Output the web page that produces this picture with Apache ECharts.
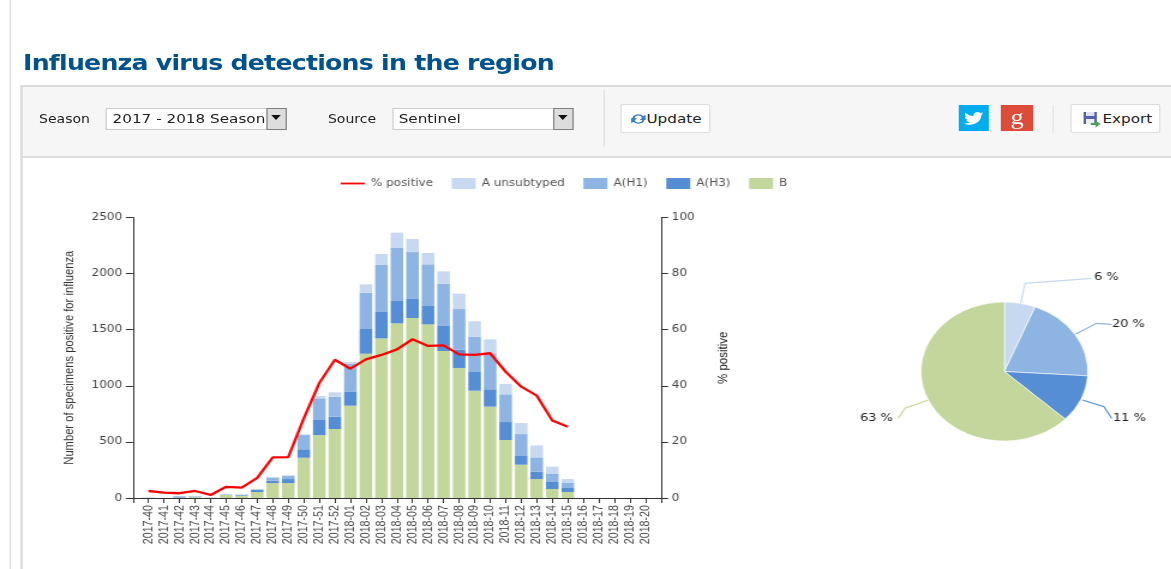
<!DOCTYPE html>
<html>
<head>
<meta charset="utf-8">
<title>Influenza virus detections in the region</title>
<script src="https://cdn.jsdelivr.net/npm/echarts@6/dist/echarts.min.js"></script>
<style>
  html, body { margin: 0; padding: 0; background: #fff; overflow: hidden; }
  /* the whole page is stretched sideways by 1.2 */
  #page { position: absolute; left: 0; top: 0; width: 976px; height: 569px; transform: scaleX(1.2); transform-origin: 0 0; font-family: "DejaVu Sans", sans-serif; color: #222; }
  #page > * { position: absolute; box-sizing: border-box; }
  .edge { left: 7.5px; top: 0; width: 1.2px; height: 569px; background: #ddd; }
  h1 { left: 19.2px; top: 49px; margin: 0; font-size: 21px; line-height: 28px; letter-spacing: -0.63px; color: #00528c; white-space: nowrap; }
  .panel { left: 16.7px; top: 85px; width: 960px; height: 73px; background: #f6f6f6; border: 2px solid #ddd; border-right: 0; }
  .body { left: 16.7px; top: 157px; width: 2px; height: 412px; background: #ddd; }
  .lbl { top: 112px; font-size: 11.7px; line-height: 14px; }
  .select { top: 108px; height: 22px; background: #fff; border: 1px solid #ccc; font-size: 12.7px; line-height: 20px; padding-left: 4.5px; white-space: nowrap; overflow: hidden; }
  .arrow { top: 108px; height: 22px; width: 17.5px; background: #ddd; border: 1.5px solid #808080; }
  .arrow:after { content: ""; position: absolute; left: 3.5px; top: 6px; border: 4px solid transparent; border-top: 5px solid #111; }
  .sep { width: 1.4px; background: #ddd; }
  .btn { top: 104px; height: 29px; width: 75.8px; background: #fff; border: 1px solid #ddd; border-radius: 2px; font-size: 12.7px; line-height: 28px; padding-left: 21px; }
  .btn svg { position: absolute; left: 7px; top: 6px; }
  .share { top: 105px; height: 26px; color: #fff; text-align: center; }
  #chart { left: 0; top: 158px; width: 976px; height: 411px; }
</style>
</head>
<body>
<div id="page">
  <div class="edge"></div>
  <h1>Influenza virus detections in the region</h1>
  <div class="panel"></div>
  <div class="body"></div>
  <div class="lbl" style="left:32.5px">Season</div>
  <div class="select" style="left:88.3px;width:151px">2017 - 2018 Season</div>
  <div class="arrow" style="left:221.7px"></div>
  <div class="lbl" style="left:273.3px">Source</div>
  <div class="select" style="left:326.7px;width:151.7px">Sentinel</div>
  <div class="arrow" style="left:460.9px"></div>
  <div class="sep" style="left:502.5px;top:90px;height:57px"></div>
  <div class="btn" style="left:516.7px">
    <svg width="14" height="16" viewBox="0 0 14 16"><path d="M2 7a5 4 0 0 1 9-2l2-1v5H8l2-2a3 3 0 0 0-6 1zM12 9a5 4 0 0 1-9 2l-2 1V7h5L4 9a3 3 0 0 0 6-1z" fill="#3b7fc4"/></svg>Update
  </div>
  <div class="share" style="left:799.2px;width:25px;background:#00aced">
    <svg width="19" height="26" viewBox="0 0 19 26" style="display:block;margin:auto"><path d="M17.5 8.5c-.6.3-1.200.4-1.900.5.7-.4 1.200-1 1.400-1.700-.6.4-1.300.6-2.100.8a3.300 3.300 0 0 0-5.600 3c-2.700-.1-5.100-1.400-6.700-3.400-.9 1.500-.4 3.400 1 4.400-.5 0-1-.2-1.500-.4 0 1.600 1.100 2.900 2.600 3.200-.5.1-1 .2-1.500.1.400 1.300 1.600 2.200 3.100 2.300A6.700 6.700 0 0 1 1 18.200c6.500 4 15-.4 14.800-8.100.7-.4 1.200-1 1.700-1.600z" fill="#fff"/></svg>
  </div>
  <div class="share" style="left:834.2px;width:26.7px;background:#dd4b39;font:22px/23px 'Liberation Serif',serif">g</div>
  <div class="sep" style="left:876.7px;top:105px;height:28px"></div>
  <div class="btn" style="left:891.7px;padding-left:26px">
    <svg width="19" height="17" viewBox="0 0 15 17"><rect x="1" y="1" width="11" height="12" fill="#5560b0"/><rect x="3" y="1" width="7" height="4" fill="#dfe3f5"/><rect x="3" y="8" width="7" height="5" fill="#eee"/><path d="M7 12h4V9.500l4 3.500-4 3.500V14H7z" fill="#4aa05a"/></svg>Export
  </div>
  <div id="chart"></div>
</div>
<script>
const weeks = [
  "2017-40", "2017-41", "2017-42", "2017-43", "2017-44", "2017-45", "2017-46", "2017-47", "2017-48", "2017-49", "2017-50",
  "2017-51", "2017-52", "2018-01", "2018-02", "2018-03", "2018-04", "2018-05", "2018-06", "2018-07", "2018-08", "2018-09",
  "2018-10", "2018-11", "2018-12", "2018-13", "2018-14", "2018-15", "2018-16", "2018-17", "2018-18", "2018-19", "2018-20"
];
const bValues = [0, 0, 4, 8, 2, 27, 18, 53, 133, 133, 359, 561, 615, 823, 1286, 1423, 1557, 1604, 1548, 1310, 1159, 956, 814, 517, 297, 169, 80, 53, 0, 0, 0, 0, 0];
const h3Values = [0, 0, 6, 2, 0, 1, 6, 18, 21, 36, 75, 134, 110, 127, 220, 235, 199, 170, 163, 229, 163, 167, 155, 160, 83, 65, 63, 36, 0, 0, 0, 0, 0];
const h1Values = [2, 1, 6, 5, 2, 5, 6, 6, 28, 27, 127, 193, 178, 247, 324, 419, 472, 418, 372, 371, 362, 315, 320, 247, 190, 128, 71, 45, 0, 0, 0, 0, 0];
const unsubtypedValues = [4, 2, 2, 3, 1, 3, 3, 3, 5, 6, 6, 21, 39, 15, 74, 98, 137, 116, 101, 110, 137, 137, 125, 92, 98, 107, 65, 35, 0, 0, 0, 0, 0];
const percentPositive = [2.5, 1.9, 1.7, 2.5, 1.1, 4, 3.7, 7.2, 14.5, 14.6, 28.4, 41, 49.3, 46.1, 49.4, 51, 53, 56.6, 54.2, 54.4, 51.2, 51, 51.6, 45, 39.7, 36.5, 27.6, 25.4, null, null, null, null, null];
const pieNames = ["A unsubtyped", "A(H1)", "A(H3)", "B"];
const pieValues = [6, 20, 11, 63];
const colors = { "A unsubtyped": "#c6d9f1", "A(H1)": "#8eb4e3", "A(H3)": "#558ed5", "B": "#c3d69b" };

// the axis runs half a band past the first and last week
const pad = (arr) => [null, ...arr, null];

const barSeries = (name, values) => ({
  name,
  type: "bar",
  stack: "total",
  barWidth: 10.5,
  yAxisIndex: 0,
  data: pad(values),
  itemStyle: { color: colors[name] },
});

const axisText = { fontFamily: "DejaVu Sans", fontSize: 10, color: "#444" };
const axisStroke = { show: true, lineStyle: { color: "#333", width: 1 } };

// pie labels and their leader lines, in page pixels before the stretch
const spot = (x, y) => [x / 1.2, y - 158];
const pieLabelLayout = [
  { at: spot(1094, 277), line: [spot(1020.7, 303.3), spot(1025, 283.3), spot(1091.7, 278.3)] },
  { at: spot(1112, 324), line: [spot(1075.7, 334), spot(1096.7, 323.3), spot(1111.7, 324.3)] },
  { at: spot(1113, 418), line: [spot(1082.3, 400), spot(1104, 406.7), spot(1111.7, 418.3)] },
  { at: spot(860, 418), line: [spot(928.3, 400), spot(905, 408.3), spot(898.3, 418.3)] },
];

const chart = echarts.init(document.getElementById("chart"), null, { renderer: "canvas" });

chart.setOption({
  animation: false,
  legend: {
    left: 279,
    top: 15,
    itemWidth: 20,
    itemHeight: 11,
    itemGap: 15.5,
    icon: "rect",
    textStyle: { fontFamily: "DejaVu Sans", fontSize: 10, color: "#555" },
    data: [
      { name: "% positive", icon: "path://M0 4.6H20V6.4H0Z" },
      "A unsubtyped", "A(H1)", "A(H3)", "B",
    ],
  },
  grid: { left: 110.8, top: 59.5, width: 440, height: 280.5 },
  xAxis: {
    type: "category",
    boundaryGap: false,
    data: pad(weeks).map((w) => w || ""),
    axisLine: axisStroke,
    axisTick: { show: true, length: 5, interval: 0, lineStyle: { color: "#333" } },
    axisLabel: { ...axisText, interval: 0, rotate: 90, margin: 7, fontFamily: "Liberation Sans", fontSize: 10.7 },
  },
  yAxis: [
    {
      type: "value",
      min: 0,
      max: 2500,
      interval: 500,
      name: "Number of specimens positive for influenza",
      nameLocation: "middle",
      nameGap: 47,
      nameTextStyle: { fontFamily: "Liberation Sans", fontSize: 11.2, color: "#333" },
      splitLine: { show: false },
      axisLine: axisStroke,
      axisTick: { show: true, length: 6, lineStyle: { color: "#333" } },
      axisLabel: { ...axisText, margin: 9, formatter: (v) => String(v) },
    },
    {
      type: "value",
      min: 0,
      max: 100,
      interval: 20,
      name: "% positive",
      nameLocation: "middle",
      nameRotate: 90,
      nameGap: 46,
      nameTextStyle: { fontFamily: "Liberation Sans", fontSize: 11.5, color: "#222" },
      splitLine: { show: false },
      axisLine: axisStroke,
      axisTick: { show: true, length: 6, lineStyle: { color: "#333" } },
      axisLabel: { ...axisText, margin: 9 },
    },
  ],
  series: [
    barSeries("B", bValues),
    barSeries("A(H3)", h3Values),
    barSeries("A(H1)", h1Values),
    barSeries("A unsubtyped", unsubtypedValues),
    {
      name: "% positive",
      type: "line",
      yAxisIndex: 1,
      showSymbol: false,
      symbol: "none",
      z: 5,
      data: pad(percentPositive),
      itemStyle: { color: "#f00" },
      lineStyle: { color: "#f00", width: 2.3 },
    },
    {
      type: "pie",
      center: [837, 213.5],
      radius: 69.5,
      startAngle: 90,
      minShowLabelAngle: 0,
      label: { formatter: "{c} %", overflow: "none", fontFamily: "DejaVu Sans", fontSize: 10.8, color: "#222" },
      labelLine: { lineStyle: { width: 1.2 } },
      labelLayout: (params) => {
        const spec = pieLabelLayout[params.dataIndex];
        return { x: spec.at[0], y: spec.at[1], align: "left", verticalAlign: "middle", labelLinePoints: spec.line };
      },
      data: pieNames.map((name, i) => ({
        name,
        value: pieValues[i],
        itemStyle: { color: colors[name], borderColor: "#fff", borderWidth: 0.6 },
      })),
    },
  ],
});
</script>
</body>
</html>
